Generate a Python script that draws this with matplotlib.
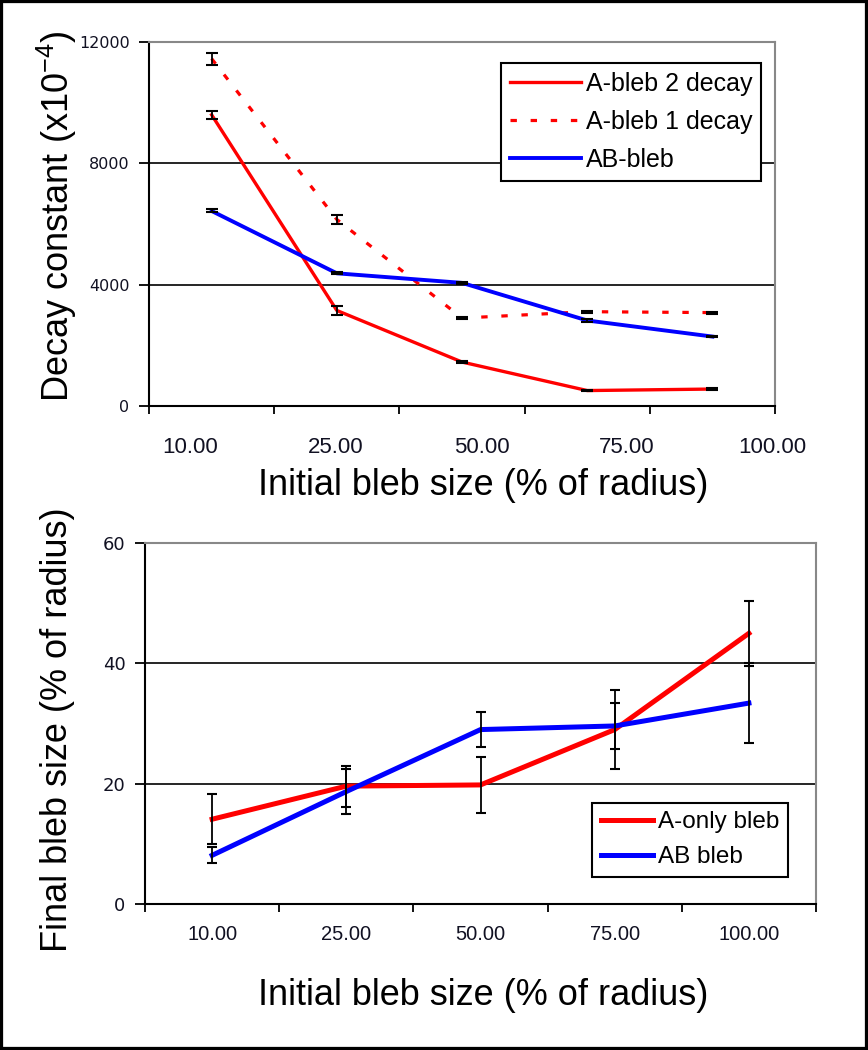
import matplotlib.pyplot as plt
import matplotlib.patches as patches
import numpy as np

plt.rcParams['font.family'] = ['Liberation Sans', 'DejaVu Sans']
plt.rcParams['mathtext.fontset'] = 'custom'
plt.rcParams['mathtext.rm'] = 'Liberation Sans'

# Datos
sizes = ['10.00', '25.00', '50.00', '75.00', '100.00']

a2_decay = [9600, 3150, 1450, 510, 560]
a2_err = [140, 160, 30, 30, 30]
a1_decay = [11450, 6150, 2900, 3110, 3080]
a1_err = [200, 150, 30, 30, 30]
ab_decay = [6430, 4375, 4060, 2820, 2290]
ab_err = [50, 30, 40, 40, 30]

aonly_final = [14.1, 19.6, 19.8, 29.0, 45.0]
aonly_err = [4.2, 3.4, 4.7, 6.5, 5.4]
ab_final = [8.1, 18.7, 29.0, 29.6, 33.4]
ab_final_err = [1.3, 3.7, 2.85, 3.85, 6.6]

RED = '#ff0000'
BLUE = '#0000ff'
DOT = (0, (2, 4.3))

fig = plt.figure(figsize=(8.68, 10.5), dpi=100)
ax1 = fig.add_axes([0.1717, 0.6133, 0.7212, 0.3467])
ax2 = fig.add_axes([0.1671, 0.1390, 0.7730, 0.3438])

x = np.arange(len(sizes))


def style_axis(ax, ymax, yticks, ysize, label_pos, xsize, label_pad):
    ax.set_xlim(-0.5, len(sizes) - 0.5)
    ax.set_ylim(0, ymax)
    ax.set_yticks(yticks)
    ax.set_yticklabels([str(v) for v in yticks], fontsize=ysize,
                       color='#111122', family='DejaVu Sans')
    ax.yaxis.grid(True, color='black', lw=1.2)
    ax.set_axisbelow(True)
    ax.set_xticks(np.arange(-0.5, len(sizes), 1))
    ax.set_xticklabels([])
    ax.set_xticks(label_pos, minor=True)
    ax.set_xticklabels(sizes, minor=True, fontsize=xsize, color='#111122')
    ax.tick_params(axis='x', which='minor', length=0, pad=label_pad)
    ax.tick_params(axis='x', which='major', length=6, width=1.3, direction='out')
    ax.tick_params(axis='y', length=7, width=1.3, pad=7)
    for s in ['left', 'bottom']:
        ax.spines[s].set_color('black')
        ax.spines[s].set_linewidth(1.5)
    for s in ['top', 'right']:
        ax.spines[s].set_color('#888888')
        ax.spines[s].set_linewidth(1.5)


# Gráfico superior: constantes de decaimiento
ax1.plot(x, a2_decay, color=RED, lw=2.4, label='A-bleb 2 decay', zorder=3)
ax1.plot(x, a1_decay, color=RED, lw=2.3, ls=DOT, label='A-bleb 1 decay', zorder=3)
ax1.plot(x, ab_decay, color=BLUE, lw=2.8, label='AB-bleb', zorder=3)
for vals, err in [(a2_decay, a2_err), (a1_decay, a1_err), (ab_decay, ab_err)]:
    ax1.errorbar(x, vals, yerr=err, fmt='none', ecolor='black',
                 elinewidth=1.3, capsize=4.5, capthick=1.5, zorder=4)

style_axis(ax1, 12000, [0, 4000, 8000, 12000], 11.5,
           np.linspace(-0.17, 4.48, 5), 16, 22)
ax1.set_xlabel('Initial bleb size (% of radius)', fontsize=26)
ax1.xaxis.set_label_coords(0.534, -0.217)
ax1.xaxis.label.set_va('center')
ax1.set_ylabel('Decay constant (x10$^{-4}$)', fontsize=26)
ax1.yaxis.set_label_coords(-0.147, 0.522)
ax1.yaxis.label.set_va('center')

leg1 = ax1.legend(loc='upper right', bbox_to_anchor=(0.978, 0.942), borderaxespad=0,
                  fontsize=18, fancybox=False, framealpha=1, edgecolor='black',
                  handlelength=2.85, handletextpad=0.2, labelspacing=0.56,
                  borderpad=0.35)
leg1.get_frame().set_linewidth(1.5)

# Gráfico inferior: tamaño final
ax2.plot(x, aonly_final, color=RED, lw=3.6, label='A-only bleb', zorder=3)
ax2.plot(x, ab_final, color=BLUE, lw=3.6, label='AB bleb', zorder=3)
for vals, err in [(aonly_final, aonly_err), (ab_final, ab_final_err)]:
    ax2.errorbar(x, vals, yerr=err, fmt='none', ecolor='black',
                 elinewidth=1.3, capsize=3.8, capthick=1.5, zorder=4)

style_axis(ax2, 60, [0, 20, 40, 60], 13, x, 14.5, 15)
ax2.set_xlabel('Initial bleb size (% of radius)', fontsize=26)
ax2.xaxis.set_label_coords(0.504, -0.252)
ax2.xaxis.label.set_va('center')
ax2.set_ylabel('Final bleb size (% of radius)', fontsize=26)
ax2.yaxis.set_label_coords(-0.131, 0.482)
ax2.yaxis.label.set_va('center')

leg2 = ax2.legend(loc='upper right', bbox_to_anchor=(0.958, 0.280), borderaxespad=0,
                  fontsize=17.5, fancybox=False, framealpha=1, edgecolor='black',
                  handlelength=2.15, handletextpad=0.2, labelspacing=0.52,
                  borderpad=0.35)
leg2.get_frame().set_linewidth(1.5)

# Marco exterior
fig.patches.append(patches.Rectangle((0, 0), 1, 1, transform=fig.transFigure,
                                     fill=False, edgecolor='black', lw=4.5))

fig.savefig('out.png', dpi=100)
